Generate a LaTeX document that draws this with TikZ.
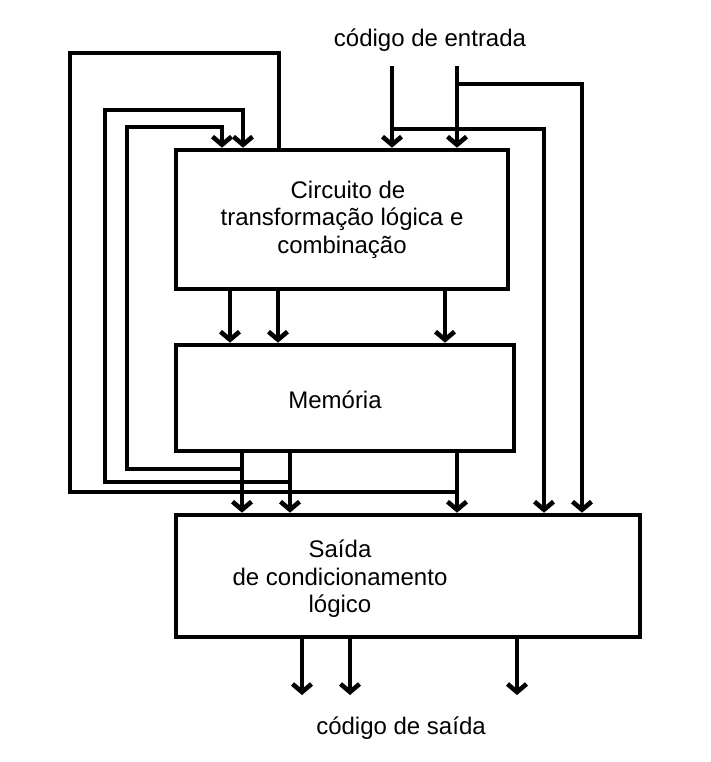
\documentclass[tikz,border=0pt]{standalone}
\usepackage{fontspec}
\setmainfont{Liberation Sans}
\usetikzlibrary{arrows.meta}

\begin{document}
\begin{tikzpicture}[x=1pt,y=-1pt,line width=4.6pt,
      >={Straight Barb[length=8pt,width=19pt]},
      every node/.style={font=\fontsize{24}{27.5}\selectfont,inner sep=0pt},
      blk/.style={draw,line width=4.6pt,align=center}]
      \useasboundingbox(0,0)rectangle(710,762);
      \node[blk,minimum width=332pt,minimum height=139pt](circ)at(342,219.5)
         {\hspace{12pt}Circuito de\\transformação lógica e\\combinação\hspace{8pt}};
      \node[blk,minimum width=338pt,minimum height=106pt](mem)at(345,398){};
      \node(memtxt)at(335,400){Memória};
      \node[blk,minimum width=464pt,minimum height=122pt](sai)at(408,576){};
      \node[align=center](saitxt)at(340,579){Saída\\de condicionamento\\lógico};
      \node(ent)at(430,40){código de entrada};
      \node(sd)at(401,728){código de saída};
      % entradas
      \coordinate(in1)at(392,66);
      \coordinate(in2)at(457,66);
      \draw[->](in1)--(in1|-circ.north);
      \draw[->](in2)--(in2|-circ.north);
      \draw[->](392,129)-|(544,0|-sai.north);
      \draw[->](457,84)-|(582,0|-sai.north);
      % realimentacao
      \draw(279,0|-circ.north)|-(70,53)|-(457,492);
      \draw[->](290,482)-|(105,110)-|(243,0|-circ.north);
      \draw[->](242,469)-|(127,127)-|(222,0|-circ.north);
      \foreach \x in {230,278,445}
         \draw[->](\x,0|-circ.south)--(\x,0|-mem.north);
      \foreach \x in {242,290,457}
         \draw[->](\x,0|-mem.south)--(\x,0|-sai.north);
      % saidas
      \foreach \x in {302,350,517}
         \draw[->](\x,0|-sai.south)--(\x,695);
    \end{tikzpicture}
\end{document}
